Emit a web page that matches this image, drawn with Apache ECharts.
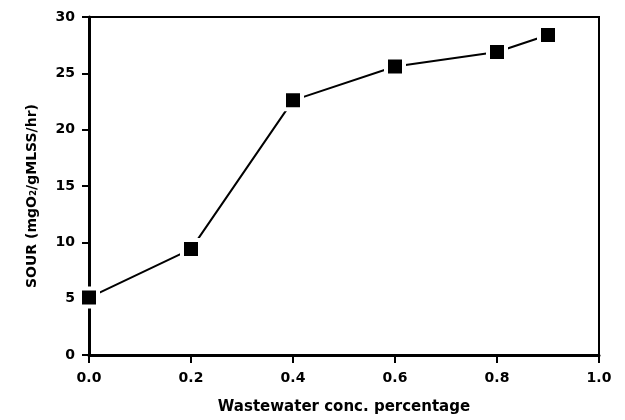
<!DOCTYPE html>
<html><head><meta charset="utf-8">
<script src="https://cdn.jsdelivr.net/npm/echarts@6/dist/echarts.min.js"></script>
<style>html,body{margin:0;padding:0;background:#fff}#c{width:625px;height:420px}</style>
</head><body><div id="c"></div>
<script>
var xValues = [0.0, 0.2, 0.4, 0.6, 0.8, 0.9];
var sourValues = [5.1, 9.4, 22.6, 25.6, 26.9, 28.4];
var xName = 'Wastewater conc. percentage';
var yName = 'SOUR (mgO\u2082/gMLSS/hr)';

var data = xValues.map(function(x, i){ return [x, sourValues[i]]; });
var font = 'DejaVu Sans, Liberation Sans, sans-serif';
var chart = echarts.init(document.getElementById('c'));
chart.setOption({
  animation: false,
  grid: {left: 89, right: 26, top: 17, bottom: 65, show: true, borderColor: '#000', borderWidth: 2, backgroundColor: 'transparent'},
  xAxis: {
    type: 'value', min: 0, max: 1, interval: 0.2,
    name: xName, nameLocation: 'middle', nameGap: 45,
    nameTextStyle: {fontFamily: font, fontWeight: 'bold', fontSize: 15, color: '#000'},
    axisLine: {show: true, lineStyle: {color: '#000', width: 3}},
    axisTick: {show: true, length: 8, lineStyle: {color: '#000', width: 2}},
    axisLabel: {fontFamily: font, fontWeight: 'bold', fontSize: 14, color: '#000', margin: 16,
      formatter: function(v){ return v.toFixed(1); }},
    splitLine: {show: false}
  },
  yAxis: {
    type: 'value', min: 0, max: 30, interval: 5,
    name: yName, nameLocation: 'middle', nameGap: 50,
    nameTextStyle: {fontFamily: font, fontWeight: 'bold', fontSize: 14, color: '#000', padding: [0, 20, 0, 0]},
    axisLine: {show: true, lineStyle: {color: '#000', width: 3}},
    axisTick: {show: true, length: 7, lineStyle: {color: '#000', width: 2}},
    axisLabel: {fontFamily: font, fontWeight: 'bold', fontSize: 14, color: '#000', margin: 14},
    splitLine: {show: false}
  },
  series: [{
    type: 'line', data: data,
    symbol: 'rect', symbolSize: 18,
    lineStyle: {color: '#000', width: 2},
    itemStyle: {color: '#000', borderColor: '#fff', borderWidth: 4}
  }]
});
</script></body></html>
